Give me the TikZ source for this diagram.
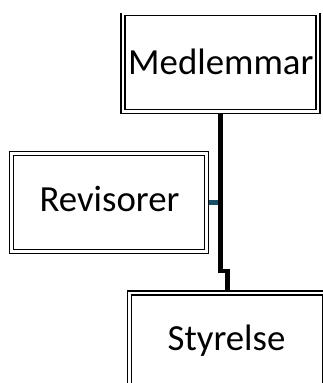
\documentclass[tikz,border=0pt]{standalone}
\usepackage{fontspec}
\setmainfont{Carlito}
\definecolor{connteal}{RGB}{28,80,104}
\begin{document}
\begin{tikzpicture}[x=1pt,y=-1pt,
  orgbox/.style={rectangle, draw=black, line width=1.3pt, double=white, double distance=2.7pt,
    inner sep=0pt, outer sep=0pt, minimum width=195pt, minimum height=98pt},
  boxtext/.style={anchor=base, inner sep=0pt, font=\fontsize{36.8}{41}\selectfont},
  mainline/.style={draw=black, line width=4.6pt, line join=miter},
  sideline/.style={draw=connteal, line width=4.5pt}]
\useasboundingbox (0,0) rectangle (323,383);
\begin{scope}
\clip (0,13) rectangle (323,383);
\node[orgbox] (med) at (220.5,62.5) {};
\node[orgbox] (rev) at (108.9,202.5) {};
\node[orgbox] (sty) at (227.2,342) {};
\coordinate (jog) at (220.5,271);
\draw[sideline, shorten <=2.2pt] (rev.east) -- (rev.east -| med.south);
\draw[mainline, shorten <=2pt, shorten >=1.5pt] (med.south) -- (jog) -| (sty.north);
\node[boxtext] (medt) at (220.8,74.3) {Medlemmar};
\node[boxtext] (revt) at (109.5,211.8) {Revisorer};
\node[boxtext] (styt) at (226.5,350.3) {Styrelse};
\end{scope}
\end{tikzpicture}
\end{document}
